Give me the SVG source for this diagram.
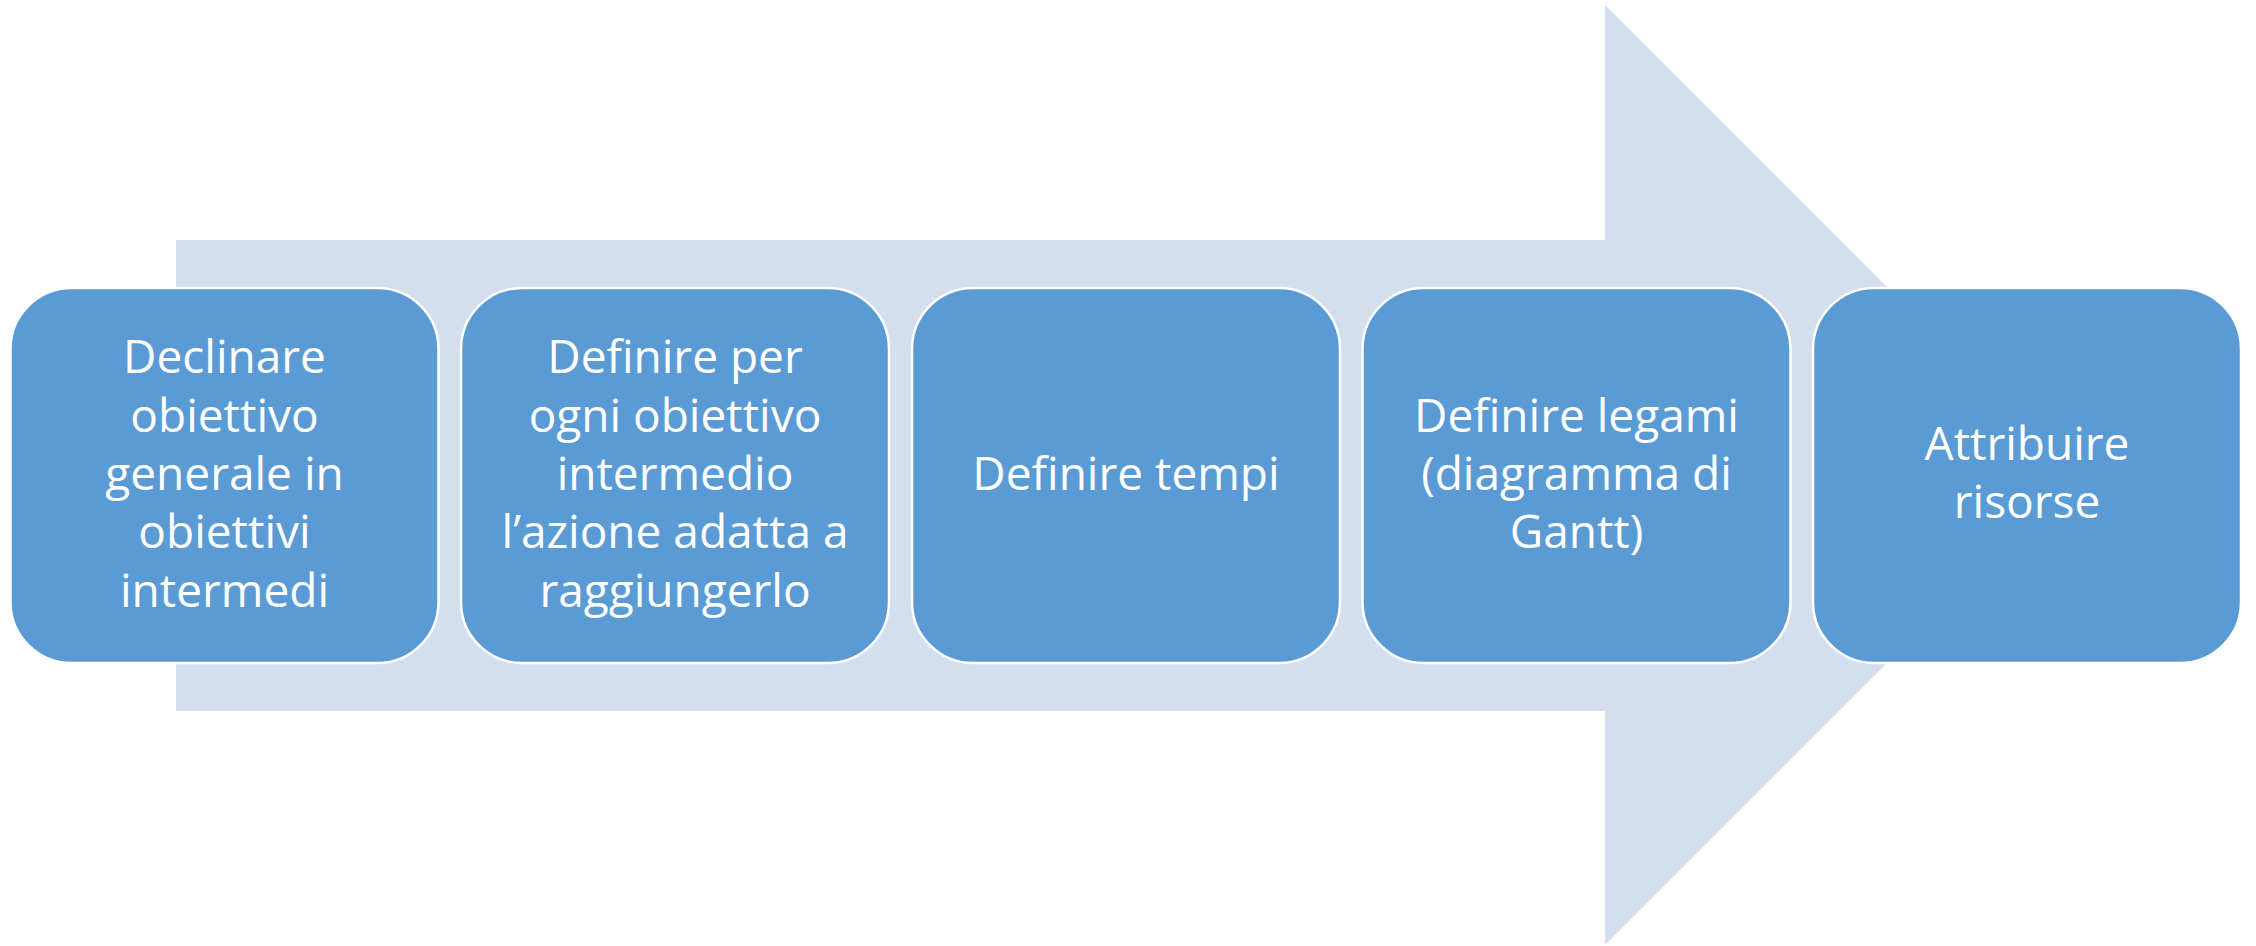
<svg xmlns="http://www.w3.org/2000/svg" width="2256" height="946" viewBox="0 0 2256 946">
<style>
.box{fill:#5B9BD5;stroke:#FFFFFF;stroke-width:2.5}
.t{font-family:"Open Sans","Noto Sans",sans-serif;font-size:46px;fill:#FFFFFF;text-anchor:middle}
</style>
<rect width="2256" height="946" fill="#FFFFFF"/>
<g id="arrow">
<polygon points="176,240 1605,240 1605,5 2075,475 1605,945 1605,711 176,711" fill="#D3DEEF"/>
</g>
<g id="connectors"></g>
<g id="node1">
<rect class="box" x="10.5" y="288" width="428" height="375" rx="61" ry="61"/>
<text class="t" x="224.5" y="373.3">Declinare</text>
<text class="t" x="224.5" y="431.7">obiettivo</text>
<text class="t" x="224.5" y="490">generale in</text>
<text class="t" x="224.5" y="548.3">obiettivi</text>
<text class="t" x="224.5" y="606.7">intermedi</text>
</g>
<g id="node2">
<rect class="box" x="461" y="288" width="428" height="375" rx="61" ry="61"/>
<text class="t" x="675" y="373.3">Definire per</text>
<text class="t" x="675" y="431.7">ogni obiettivo</text>
<text class="t" x="675" y="490">intermedio</text>
<text class="t" x="675" y="548.3">l’azione adatta a</text>
<text class="t" x="675" y="606.7">raggiungerlo</text>
</g>
<g id="node3">
<rect class="box" x="912" y="288" width="428" height="375" rx="61" ry="61"/>
<text class="t" x="1126" y="490">Definire tempi</text>
</g>
<g id="node4">
<rect class="box" x="1362.5" y="288" width="428" height="375" rx="61" ry="61"/>
<text class="t" x="1576.5" y="431.7">Definire legami</text>
<text class="t" x="1576.5" y="490">(diagramma di</text>
<text class="t" x="1576.5" y="548.3">Gantt)</text>
</g>
<g id="node5">
<rect class="box" x="1813" y="288" width="428" height="375" rx="61" ry="61"/>
<text class="t" x="2027" y="460">Attribuire</text>
<text class="t" x="2027" y="518.3">risorse</text>
</g>
</svg>
